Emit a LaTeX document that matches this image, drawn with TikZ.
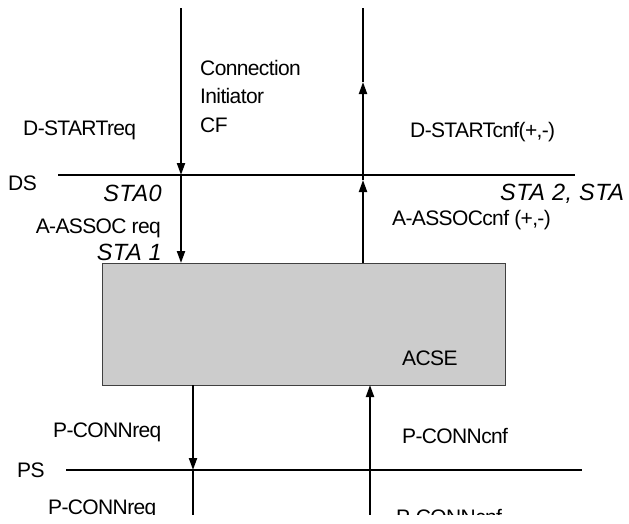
\documentclass[tikz,border=0pt]{standalone}
\usepackage{fontspec}
\setmainfont{Liberation Sans}
\usetikzlibrary{arrows.meta}
\begin{document}
\begin{tikzpicture}[x=1pt,y=-1pt,
  lbl/.style={anchor=base west,inner sep=0pt,font=\fontsize{21}{25}\selectfont\addfontfeature{LetterSpace=-3}},
  lblr/.style={anchor=base east,inner sep=0pt,font=\fontsize{21}{25}\selectfont\addfontfeature{LetterSpace=-3}},
  sta/.style={inner sep=0pt,font=\fontsize{23.5}{27}\selectfont\itshape\addfontfeature{LetterSpace=2}},
  wire/.style={line width=2pt},
  arr/.style={wire,-{Triangle[length=12pt,width=8pt]}},
  layer/.style={line width=2pt}]
\useasboundingbox (0,0) rectangle (629,523);
\begin{scope}
\clip (0,0) rectangle (629,514);
% service boundary lines
\coordinate (dsL) at (58,175);
\coordinate (dsR) at (575,175);
\coordinate (psL) at (66,470);
\coordinate (psR) at (582,470);
\draw[layer] (dsL) -- (dsR);
\draw[layer] (psL) -- (psR);
% labels
\node[lbl] (dstartreq) at (23,135) {D-STARTreq};
\node[lbl] (ci1) at (200,75) {Connection};
\node[lbl] (ci2) at (200,103) {Initiator};
\node[lbl] (ci3) at (200,132) {CF};
\node[lbl] (dstartcnf) at (410,137) {D-STARTcnf(+,-)};
\node[lbl] (ds) at (8,190) {DS};
\node[sta,anchor=base east] (sta0) at (162,201) {STA0};
\node[lblr] (assocreq) at (161,233) {A-ASSOC req};
\node[sta,anchor=base east] (sta1) at (162,260) {STA 1};
\node[sta,anchor=base west] (sta2) at (500,200) {STA 2, STA};
\node[lbl] (assoccnf) at (392,225) {A-ASSOCcnf (+,-)};
\node[lbl] (pconnreq) at (53,437) {P-CONNreq};
\node[lbl] (ps) at (17,477) {PS};
\node[lbl] (pconncnf) at (402,443) {P-CONNcnf};
\node[lbl] (pconnreq2) at (48,514) {P-CONNreq};
\node[lbl] (pconncnf2) at (396,524) {P-CONNcnf};
% ACSE box
\node[draw=black!75,line width=0.8pt,fill=black!20,minimum width=403pt,minimum height=122pt,inner sep=0pt,anchor=north west] (acse) at (102,263) {};
\node[lbl] (acselbl) at (402,365) {ACSE};
% coordinates on wires
\coordinate (lt) at (181,8);
\coordinate (lds) at (181,175);
\coordinate (lbox) at (181,263);
\coordinate (rt) at (363,8);
\coordinate (rup) at (363,82);
\coordinate (rds) at (363,180);
\coordinate (rbox) at (363,263);
\coordinate (lbb) at (193,385);
\coordinate (lps) at (193,470);
\coordinate (lbot) at (193,520);
\coordinate (rbb) at (370,385);
\coordinate (rps) at (370,453);
\coordinate (rbot) at (370,520);
% connectors
\draw[arr] (lt) -- (lds);
\draw[arr] (lds) -- (lbox);
\draw[arr] (rbox) -- (rds);
\draw[arr] (rds) -- (rup);
\draw[wire] (rup) -- (rt);
\draw[arr] (lbb) -- (lps);
\draw[wire] (lps) -- (lbot);
\draw[wire] (rbot) -- (rps);
\draw[arr] (rps) -- (rbb);
\end{scope}
\end{tikzpicture}
\end{document}
